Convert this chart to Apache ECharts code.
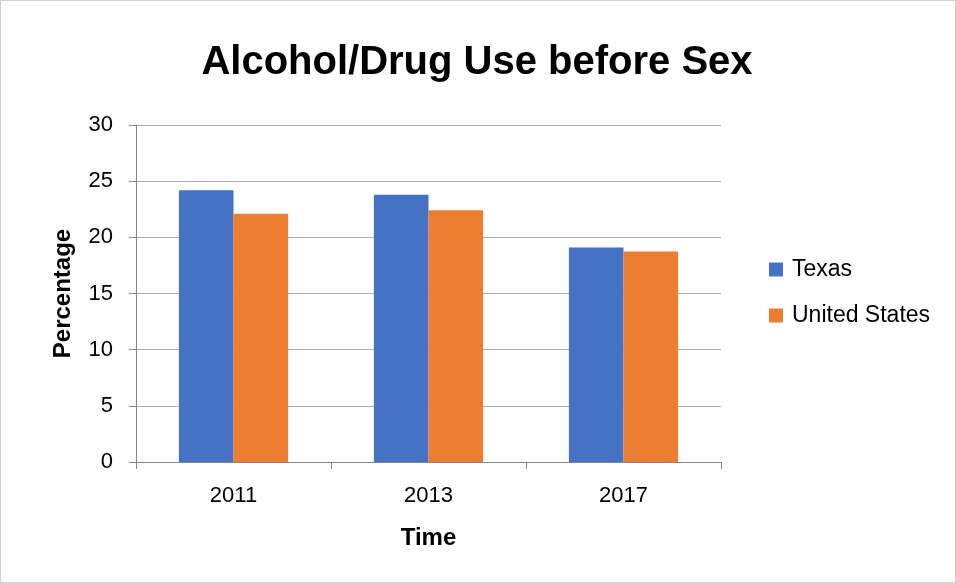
<!DOCTYPE html>
<html><head><meta charset="utf-8">
<script src="https://cdn.jsdelivr.net/npm/echarts@6/dist/echarts.min.js"></script>
<style>html,body{margin:0;padding:0;background:#fff}#c{width:956px;height:583px;box-sizing:border-box;border:1px solid #d0d0d0}</style>
</head><body><div id="c"></div>
<script>
const categories = ['2011', '2013', '2017'];
const texas = [24.2, 23.8, 19.1];
const unitedStates = [22.1, 22.4, 18.75];
const yTicks = [0, 5, 10, 15, 20, 25, 30];

const chart = echarts.init(document.getElementById('c'));
const font = 'Liberation Sans, Arial, sans-serif';
chart.setOption({
  animation: false,
  title: {
    text: 'Alcohol/Drug Use before Sex', left: 471, top: 37, textAlign: 'center',
    textStyle: {fontFamily: font, fontWeight: 'bold', fontSize: 40, lineHeight: 40, color: '#000'}
  },
  legend: {
    orient: 'vertical', left: 763, top: 252, itemWidth: 14, itemHeight: 14, itemGap: 23,
    icon: 'rect',
    textStyle: {fontFamily: font, fontSize: 23, lineHeight: 23, color: '#000', padding: [0,0,0,4]},
    data: ['Texas', 'United States']
  },
  grid: {left: 135, right: 234, top: 124, bottom: 120},
  xAxis: {
    type: 'category', data: categories,
    name: 'Time', nameLocation: 'middle', nameGap: 64,
    nameTextStyle: {fontFamily: font, fontWeight: 'bold', fontSize: 24, lineHeight: 24, color: '#000'},
    axisLine: {lineStyle: {color: '#868686'}},
    axisTick: {show: true, length: 7, lineStyle: {color: '#868686'}},
    axisLabel: {fontFamily: font, fontSize: 22, lineHeight: 22, color: '#000', margin: 23}
  },
  yAxis: {
    type: 'value', min: yTicks[0], max: yTicks[yTicks.length-1], interval: 5,
    name: 'Percentage', nameLocation: 'middle', nameGap: 61, nameRotate: 90,
    nameTextStyle: {fontFamily: font, fontWeight: 'bold', fontSize: 24, lineHeight: 24, color: '#000'},
    axisLine: {show: true, lineStyle: {color: '#868686'}},
    axisTick: {show: true, length: 7, lineStyle: {color: '#868686'}},
    axisLabel: {fontFamily: font, fontSize: 22, color: '#000', margin: 23},
    splitLine: {lineStyle: {color: '#aeaeae', width: 1}}
  },
  series: [
    {name: 'Texas', type: 'bar', data: texas, itemStyle: {color: '#4472C4'}, barGap: '0%', barCategoryGap: '44%'},
    {name: 'United States', type: 'bar', data: unitedStates, itemStyle: {color: '#ED7D31'}, barGap: '0%', barCategoryGap: '44%'}
  ]
});
</script></body></html>
